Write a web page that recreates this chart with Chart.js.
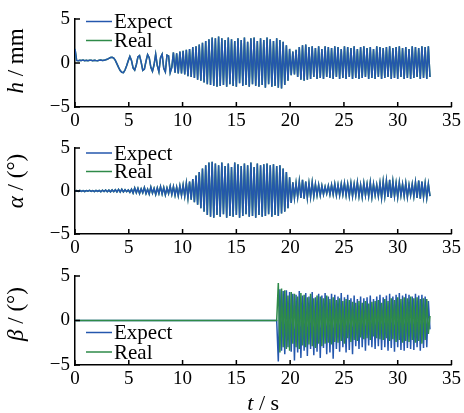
<!DOCTYPE html>
<html>
<head>
<meta charset="utf-8">
<script src="https://cdn.jsdelivr.net/npm/chart.js@4.4.1/dist/chart.umd.min.js"></script>
<style>
  html, body { margin: 0; padding: 0; background: #fff; }
  #wrap { position: relative; width: 464px; height: 413px; }
  .panel { position: absolute; left: 0; width: 464px; }
</style>
</head>
<body>
<div id="wrap">
  <div class="panel" style="top:0px;height:130px"><canvas id="chartH" width="464" height="130"></canvas></div>
  <div class="panel" style="top:130px;height:128px"><canvas id="chartAlpha" width="464" height="128"></canvas></div>
  <div class="panel" style="top:258px;height:155px"><canvas id="chartBeta" width="464" height="155"></canvas></div>
</div>
<script>
// sample interval of the recorded signals (s)
const DT = 0.15;
const X_TICKS = [0, 5, 10, 15, 20, 25, 30, 35];
const Y_TICKS = [-5, 0, 5];
const LEGEND_NAMES = ["Expect", "Real"];

// h / mm, from t = 0
const hExpect = [
    1.6, 0.3, 0.25, 0.3, 0.28, 0.33, 0.26, 0.3, 0.25, 0.32, 0.3, 0.27, 0.31, 0.28, 0.26, 0.3, 0.33, 0.28, 0.3, 0.36,
    0.42, 0.52, 0.62, 0.65, 0.55, 0.3, -0.1, -0.5, -0.85, -1.05, -1.1, -0.8, -0.3, 0.25,
    0.75, 0.3, -0.55, -0.8, -0.2, 0.7, 0.85, 0.1, -0.85, -0.7, 0.2, 0.95, 0.6, -0.5, -0.95, -0.2,
    1.0, -0.3, -1.0, 0.6, 1.0, -0.6, -1.0, 0.9, 0.8, -1.1, -0.5, 1.2,
    -1.1, 1.1, -1.2, 1.3, -1.2, 1.4, -1.3, 1.5, -1.5, 1.6, -1.6, 1.8, -1.7, 1.9, -1.9, 2.1, -2.0, 2.3, -2.2, 2.5,
    -2.4, 2.7, -2.5, 2.9, -2.6, 2.8, -2.7, 3.0, -2.6,
    2.8, -2.5, 2.6, -2.7, 2.9, -2.4, 2.7, -2.6, 2.5, -2.7, 2.8, -2.3, 2.6, -2.6, 2.9, -2.5, 2.4, -2.7, 2.8, -2.4,
    2.9, -2.6, 2.5, -2.7, 2.8, -2.5, 2.6, -2.8, 2.9, -2.4, 2.7, -2.7, 2.5, -2.6, 2.8, -2.8, 2.6, -2.9, 2.4, -2.5,
    2.0, -2.0, 1.6, -1.4, 1.3, -1.3, 1.5, -1.6, 1.8, -1.9, 2.0, -2.0, 2.1, -1.9,
    1.8, -1.8, 1.9, -1.6, 1.7, -1.8, 1.9, -1.7, 1.6, -1.8, 1.9, -1.6, 1.8, -1.7, 1.7, -1.8, 1.9, -1.6, 1.8, -1.8,
    1.6, -1.7, 1.9, -1.8, 1.8, -1.6, 1.7, -1.8, 1.9, -1.7, 1.6, -1.8, 1.8, -1.7, 1.9, -1.6, 1.7, -1.8, 1.8, -1.7,
    1.6, -1.8, 1.9, -1.6, 1.8, -1.8, 1.7, -1.7, 1.8, -1.6, 1.9, -1.8, 1.7, -1.7, 1.8, -1.8, 1.9, -1.6, 1.7, -1.8,
    1.8, -1.7, 1.6, -1.8, 1.9, -1.7, 1.8, -1.6, 1.7, -1.8, 1.9, -1.7, 1.8, -1.8, 1.9, -1.6
];
// the measured h sits under the expected trace
const hReal = hExpect;

// alpha / deg, from t = 0
const alphaExpect = [
    0, 0.05, -0.04, 0.06, -0.05, 0.04, -0.06, 0.05, -0.03, 0.07, -0.05, 0.04, -0.06, 0.08, -0.05, 0.06, -0.08, 0.1, -0.06, 0.12,
    -0.08, 0.1, -0.1, 0.12, -0.08, 0.15, -0.1, 0.18, -0.12, 0.2, -0.1, 0.15, -0.08, 0.12,
    -0.15, 0.2, -0.25, 0.35, -0.2, 0.3, -0.3, 0.25, -0.2, 0.4, -0.3, 0.2, -0.35, 0.45, -0.25, 0.3, -0.4, 0.35, -0.3, 0.5,
    -0.35, 0.4, -0.45, 0.35, -0.3, 0.55, -0.4, 0.5, -0.5, 0.45, -0.55, 0.6, -0.5,
    0.7, -0.6, 0.9, -0.8, 1.1, -1.0, 1.4, -1.3, 1.8, -1.6, 2.2, -2.0, 2.6, -2.4, 3.0, -2.8, 3.3, -3.0, 3.4,
    -3.1, 3.2, -2.8, 3.0, -3.0, 3.3, -2.7, 2.9, -3.1, 3.2, -2.9, 2.8, -3.0, 3.3, -2.8, 3.1, -3.1, 2.9, -2.9, 3.2,
    -2.7, 3.0, -3.0, 3.3, -2.9, 2.8, -3.1, 3.2, -2.8, 3.0, -3.0, 3.1, -2.9, 3.2, -2.7, 3.0, -3.0, 3.1, -2.8, 2.9,
    -2.9, 3.0, -2.6, 2.6, -2.4,
    2.2, -2.0, 1.6, -1.4, 1.0, -0.8, 0.9, -0.7, 1.1, -0.8,
    1.3, -0.9, 1.1, -0.8, 0.9, -0.7, 1.0, -0.6, 0.8, -0.5, 0.7, -0.5,
    0.6, -0.4, 0.5, -0.3, 0.6, -0.4, 0.7, -0.4, 0.8, -0.5, 0.7, -0.5, 0.8, -0.4, 0.9, -0.5, 0.8, -0.6,
    0.9, -0.6, 0.8, -0.5, 1.0, -0.6, 0.7, -0.7, 0.9, -0.5, 0.8, -0.6, 1.0, -0.7, 0.8, -0.5, 0.7, -0.6, 0.9, -0.8,
    1.1, -0.6, 1.2, -0.7, 1.3, -0.8, 1.1, -0.6, 0.9, -0.7, 1.0, -0.5, 0.8, -0.6, 0.9, -0.7, 0.7, -0.5, 0.8, -0.6,
    1.0, -0.8, 1.2, -0.9, 1.1, -0.7, 0.9, -0.8, 0.8, -0.6
];
const alphaReal = alphaExpect;

// beta / deg: zero until the switch-on time, then samples every DT
const BETA_T0 = 18.75;
const betaExpect = [
    0, -4.6, 3.5, -3.4, 3.3, -3.8, 3.4, -3.0, 3.2, -3.5, 3.0, -4.5, 2.9, -3.6, 3.3, -4.2, 2.8, -3.4, 3.1, -4.0,
    2.7, -3.2, 3.2, -3.9, 2.6, -3.5, 3.0, -4.2, 2.8, -3.1, 3.1, -3.8, 2.7, -3.6, 3.0, -4.3, 2.9, -3.2, 2.7, -3.5,
    3.1, -3.0, 2.6, -3.6, 2.9, -3.3, 2.5, -3.8, 2.8, -2.9, 2.4, -3.2, 2.7, -3.0, 2.5, -3.4, 2.6, -2.8, 2.8, -3.0,
    2.4, -3.2, 2.7, -2.9, 2.9, -3.3, 2.6, -3.0, 2.8, -3.4, 3.0, -3.1, 2.7, -3.5, 2.9, -3.0, 3.1, -3.3, 2.8, -3.4,
    3.0, -3.1, 2.9, -3.2, 2.7, -3.3, 3.0, -3.0, 2.8, -3.4, 2.9, -3.1, 2.7, -3.0, 2.2, -1.0
];
const betaReal = [
    0, 4.2, -3.6, 3.6, -3.0, 3.4, -3.2, 2.8, -3.4, 3.2, -2.6, 3.0, -3.0, 2.7, -3.2, 3.1, -2.8, 2.9, -3.0, 2.6,
    -2.7, 3.0, -2.9, 2.5, -3.1, 2.8, -2.6, 2.7, -2.9, 2.5, -2.6, 2.8, -2.5, 2.4, -2.7, 2.6, -2.4, 2.3, -2.5, 2.5,
    -2.3, 2.2, -2.6, 2.4, -2.0, 2.3, -2.4, 2.1, -2.2, 2.0, -2.3, 2.2, -1.9, 2.0, -2.1, 2.2, -2.0, 1.9, -2.2, 2.1,
    -1.8, 2.2, -2.0, 2.3, -2.1, 2.0, -2.2, 2.4, -2.0, 2.2, -2.3, 2.5, -2.1, 2.3, -2.4, 2.6, -2.2, 2.4, -2.5, 2.6,
    -2.3, 2.5, -2.4, 2.7, -2.2, 2.5, -2.5, 2.6, -2.3, 2.4, -2.6, 2.5, -2.2, 2.4, -1.5, 0.5
];

const BLUE = "#2457ad";
const GREEN = "#2e8a48";
const FONT = "'Liberation Serif', 'Times New Roman', serif";

function serie(valores, t0 = 0) {
    const pts = valores.map((v, i) => ({ x: t0 + i * DT, y: v }));
    if (t0 > 0) pts.unshift({ x: 0, y: 0 });
    return pts;
}

// ticks pointing inwards, rotated y title with italic symbol, legend inside the plot
const painelPlugin = {
    id: "painel",
    afterDraw(chart, args, opts) {
        const ctx = chart.ctx;
        const area = chart.chartArea;
        const xs = chart.scales.x;
        const ys = chart.scales.y;
        ctx.save();

        ctx.strokeStyle = "#000";
        ctx.lineWidth = 1.5;
        ctx.beginPath();
        xs.ticks.forEach(t => {
            const px = xs.getPixelForValue(t.value);
            ctx.moveTo(px, area.bottom);
            ctx.lineTo(px, area.bottom - 5);
        });
        ys.ticks.forEach(t => {
            const py = ys.getPixelForValue(t.value);
            ctx.moveTo(area.left, py);
            ctx.lineTo(area.left + 5, py);
        });
        ctx.stroke();

        // y title
        ctx.fillStyle = "#000";
        ctx.textBaseline = "middle";
        ctx.textAlign = "left";
        ctx.save();
        ctx.translate(opts.tituloX, opts.tituloY);
        ctx.rotate(-Math.PI / 2);
        desenharTitulo(ctx, opts.simbolo, opts.unidade, 23);
        ctx.restore();

        if (opts.tituloEixoX) {
            ctx.save();
            ctx.translate((area.left + area.right) / 2, opts.tituloEixoXY);
            desenharTitulo(ctx, "t", " / s", 22);
            ctx.restore();
        }

        // legend
        ctx.font = "21px " + FONT;
        ctx.textBaseline = "middle";
        chart.data.datasets.forEach((ds, i) => {
            const y = opts.legendaY[i];
            ctx.strokeStyle = ds.borderColor;
            ctx.lineWidth = 1.5;
            ctx.beginPath();
            ctx.moveTo(86, y);
            ctx.lineTo(112, y);
            ctx.stroke();
            ctx.fillStyle = "#000";
            ctx.fillText(ds.label, 114, y + 1);
        });

        ctx.restore();
    }
};

function desenharTitulo(ctx, simbolo, unidade, tamanho) {
    const fIt = "italic " + tamanho + "px " + FONT;
    const fUp = tamanho + "px " + FONT;
    ctx.font = fIt;
    const w1 = ctx.measureText(simbolo).width;
    ctx.font = fUp;
    const w2 = ctx.measureText(unidade).width;
    const x0 = -(w1 + w2) / 2;
    ctx.font = fIt;
    ctx.fillText(simbolo, x0, 0);
    ctx.font = fUp;
    ctx.fillText(unidade, x0 + w1, 0);
}

function criarGrafico(id, expect, real, cfg) {
    const ctx = document.getElementById(id);
    return new Chart(ctx, {
        type: "line",
        data: {
            datasets: [
                {
                    label: LEGEND_NAMES[0],
                    data: expect,
                    borderColor: BLUE,
                    borderWidth: 1.5,
                    pointRadius: 0,
                    tension: 0,
                    order: cfg.realNaFrente ? 1 : 0
                },
                {
                    label: LEGEND_NAMES[1],
                    data: real,
                    borderColor: GREEN,
                    borderWidth: 1.5,
                    pointRadius: 0,
                    tension: 0,
                    order: cfg.realNaFrente ? 0 : 1
                }
            ]
        },
        options: {
            responsive: false,
            animation: false,
            events: [],
            layout: { padding: { top: cfg.topo, right: 11, left: 0, bottom: 0 } },
            plugins: {
                legend: { display: false },
                tooltip: { enabled: false },
                painel: cfg.painel
            },
            scales: {
                x: {
                    type: "linear",
                    min: 0,
                    max: 35,
                    afterBuildTicks: s => { s.ticks = X_TICKS.map(v => ({ value: v })); },
                    afterFit: s => { s.height = cfg.alturaX; },
                    grid: { drawOnChartArea: false, drawTicks: false },
                    border: { display: true, color: "#000", width: 1.5 },
                    ticks: { color: "#000", padding: 3, maxRotation: 0, font: { family: FONT, size: 19 } }
                },
                y: {
                    type: "linear",
                    min: -5,
                    max: 5,
                    afterBuildTicks: s => { s.ticks = Y_TICKS.map(v => ({ value: v })); },
                    afterFit: s => { s.width = 75; },
                    grid: { drawOnChartArea: false, drawTicks: false },
                    border: { display: true, color: "#000", width: 1.5 },
                    ticks: {
                        color: "#000",
                        padding: 5,
                        font: { family: FONT, size: 19 },
                        callback: v => (v < 0 ? "\u2212" + Math.abs(v) : String(v))
                    }
                }
            }
        },
        plugins: [painelPlugin]
    });
}

criarGrafico("chartH", serie(hExpect), serie(hReal), {
    topo: 19,
    alturaX: 23,
    painel: { simbolo: "h", unidade: " / mm", tituloX: 17, tituloY: 61, legendaY: [21.5, 40.5] }
});

criarGrafico("chartAlpha", serie(alphaExpect), serie(alphaReal), {
    topo: 18,
    alturaX: 24,
    painel: { simbolo: "\u03b1", unidade: " / (\u00b0)", tituloX: 17, tituloY: 51, legendaY: [23, 41.5] }
});

criarGrafico("chartBeta", serie(betaExpect, BETA_T0), serie(betaReal, BETA_T0), {
    topo: 18,
    alturaX: 48,
    realNaFrente: true,
    painel: {
        simbolo: "\u03b2", unidade: " / (\u00b0)", tituloX: 17, tituloY: 56, legendaY: [74.5, 94],
        tituloEixoX: true, tituloEixoXY: 146
    }
});
</script>
</body>
</html>
